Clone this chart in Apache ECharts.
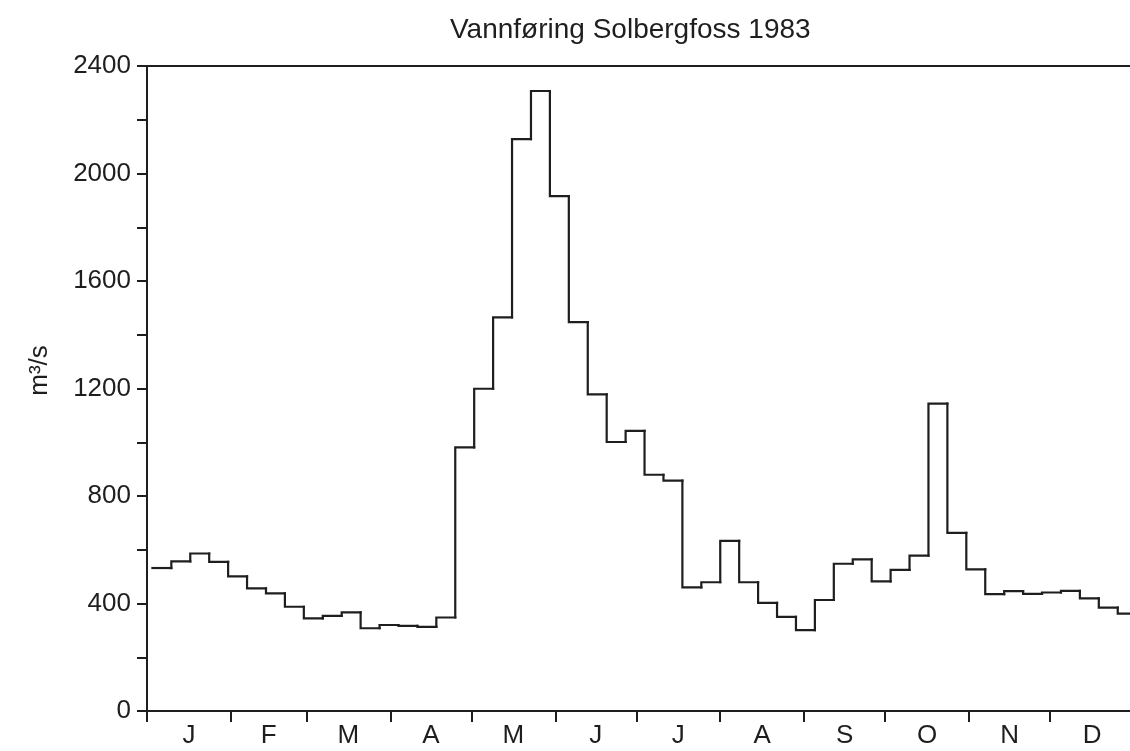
<!DOCTYPE html>
<html>
<head>
<meta charset="utf-8">
<script src="https://cdn.jsdelivr.net/npm/echarts@6/dist/echarts.min.js"></script>
<style>
  html, body { margin: 0; padding: 0; background: #ffffff; }
  #chart { width: 1130px; height: 751px; }
</style>
</head>
<body>
<div id="chart"></div>
<script>
// Weekly mean discharge (m3/s), Solbergfoss 1983, week 1 starting Monday 3 Jan
const weekFlow = [
  532, 557, 586, 555, 501, 456, 438, 388, 345, 354, 367, 308, 320,
  317, 313, 348, 981, 1199, 1465, 2128, 2307, 1916, 1447, 1178, 1001, 1042,
  879, 857, 460, 479, 633, 479, 402, 350, 301, 413, 548, 564, 482,
  525, 578, 1144, 663, 527, 435, 446, 436, 441, 447, 419, 385, 362
];
const firstWeekDay = 2;          // day-of-year offset of 3 Jan 1983
const daysPerWeek = 7;
const monthStarts = [0, 31, 59, 90, 120, 151, 181, 212, 243, 273, 304, 334, 365];
const monthLabels = ['J', 'F', 'M', 'A', 'M', 'J', 'J', 'A', 'S', 'O', 'N', 'D'];
const yTickLabels = [0, 400, 800, 1200, 1600, 2000, 2400];
const titleText = 'Vannføring Solbergfoss 1983';
const yName = 'm³/s';

const monthMids = monthLabels.map((_, i) => (monthStarts[i] + monthStarts[i + 1]) / 2);
// one item per week: [start day, end day, weekly value, previous week's value]
const weekItems = weekFlow.map((v, i) => [
  firstWeekDay + daysPerWeek * i,
  firstWeekDay + daysPerWeek * (i + 1),
  v,
  i === 0 ? v : weekFlow[i - 1]
]);

const ink = '#1e1e1e';
const font = 'Liberation Sans, Arial, Helvetica, sans-serif';
const pxPerDay = 2.704;
const xMax = 366;

const chart = echarts.init(document.getElementById('chart'), null, { renderer: 'canvas' });
chart.setOption({
  animation: false,
  backgroundColor: '#ffffff',
  title: {
    text: titleText,
    left: 445,
    top: 11,
    textStyle: { fontFamily: font, fontSize: 28, fontWeight: 'normal', color: ink }
  },
  grid: {
    left: 147,
    top: 66,
    width: xMax * pxPerDay,
    height: 645,
    show: true,
    borderColor: ink,
    borderWidth: 2,
    backgroundColor: 'transparent',
    outerBoundsMode: 'none',
    containLabel: false
  },
  xAxis: {
    type: 'value',
    min: 0,
    max: xMax,
    axisLine: { show: true, onZero: false, lineStyle: { color: ink, width: 2 } },
    axisTick: {
      show: true, length: 11, inside: false,
      customValues: monthStarts,
      lineStyle: { color: ink, width: 2 }
    },
    axisLabel: {
      show: true,
      customValues: monthMids,
      margin: 12,
      fontFamily: font,
      fontSize: 26,
      color: ink,
      formatter: function (v) {
        const idx = monthMids.findIndex(m => Math.abs(m - v) < 0.01);
        return idx >= 0 ? monthLabels[idx] : '';
      }
    },
    splitLine: { show: false }
  },
  yAxis: {
    type: 'value',
    min: 0,
    max: 2400,
    interval: 200,
    name: yName,
    nameLocation: 'middle',
    nameRotate: 90,
    nameGap: 94,
    nameTextStyle: { fontFamily: font, fontSize: 26, color: ink, padding: [0, 0, 0, 36] },
    axisLine: { show: true, lineStyle: { color: ink, width: 2 } },
    axisTick: { show: true, length: 10, lineStyle: { color: ink, width: 2 } },
    axisLabel: {
      margin: 16,
      fontFamily: font,
      fontSize: 26,
      color: ink,
      formatter: function (v) { return yTickLabels.indexOf(v) >= 0 ? String(v) : ''; }
    },
    splitLine: { show: false }
  },
  series: [{
    type: 'custom',
    clip: true,
    data: weekItems,
    encode: { x: [0, 1], y: [2, 3] },
    renderItem: function (params, api) {
      const start = api.value(0);
      const end = api.value(1);
      const v = api.value(2);
      const pv = api.value(3);
      const p0 = api.coord([start, pv]);
      const p1 = api.coord([start, v]);
      const p2 = api.coord([end, v]);
      return {
        type: 'polyline',
        shape: { points: [p0, p1, p2] },
        style: { stroke: ink, lineWidth: 2.2, fill: null, lineJoin: 'miter', lineCap: 'square' }
      };
    }
  }]
});
</script>
</body>
</html>
